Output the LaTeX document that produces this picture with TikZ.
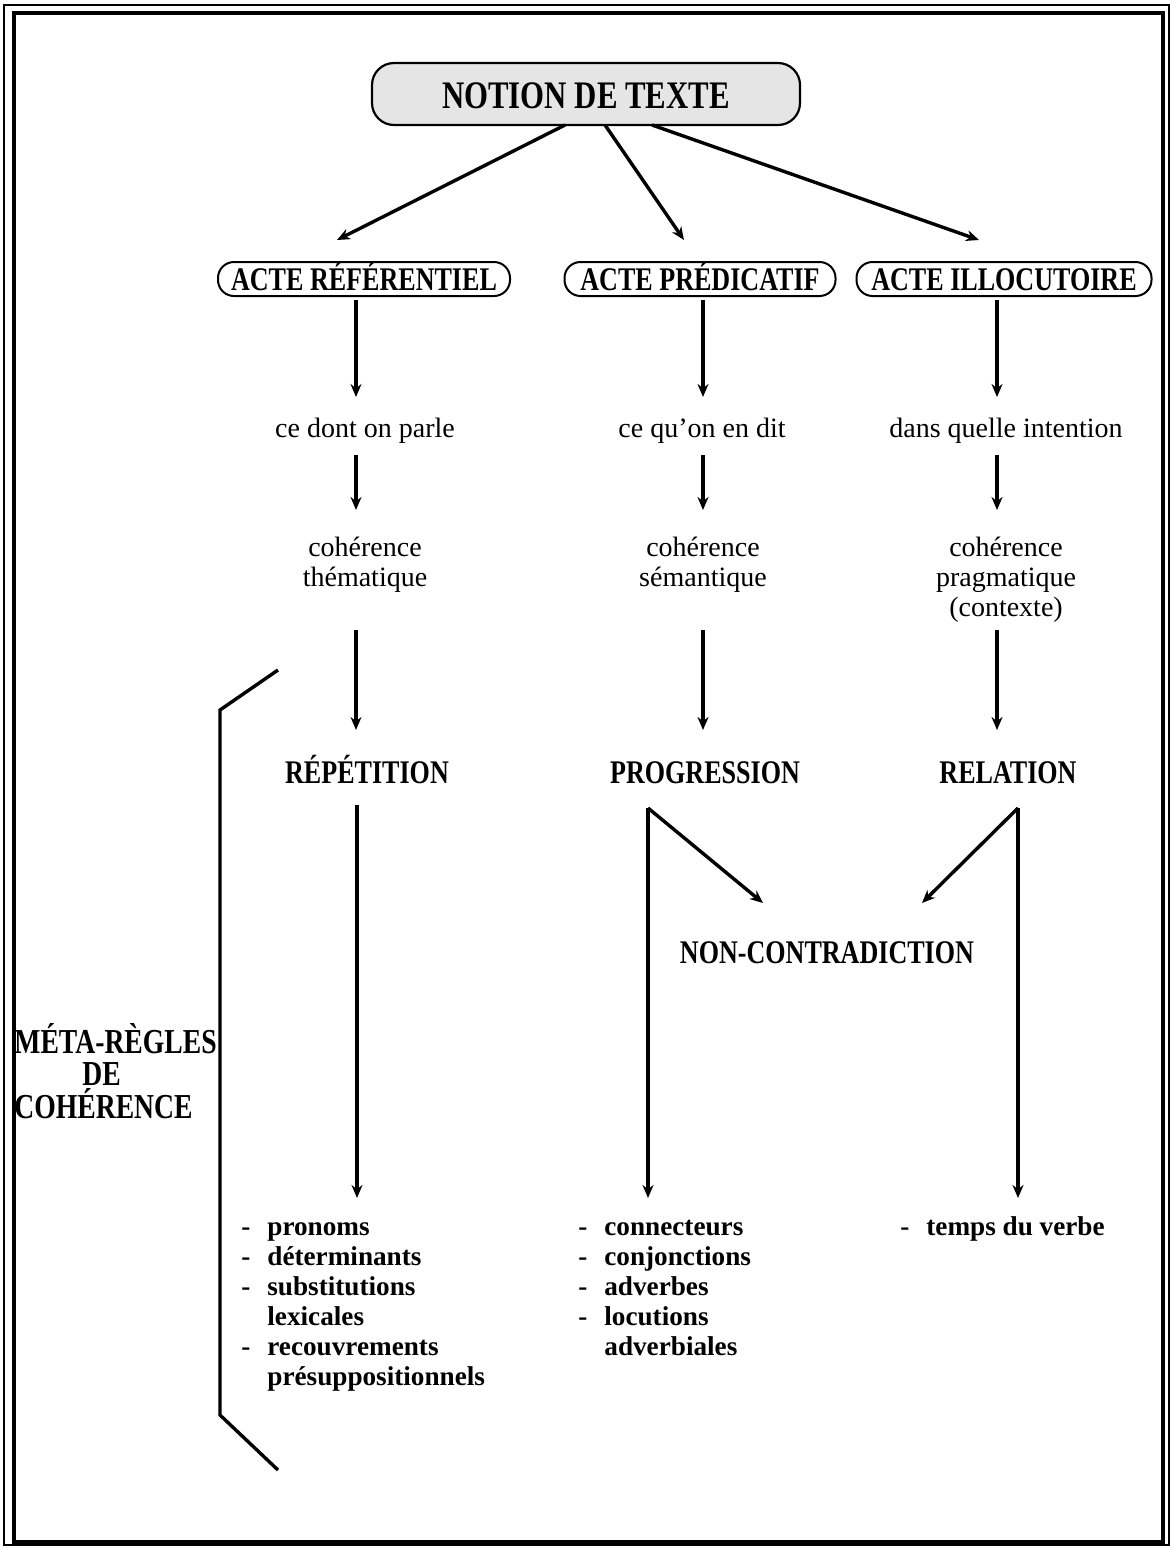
\documentclass[tikz,border=0pt]{standalone}
\usepackage{fontspec}
\setmainfont{Liberation Serif}
\newfontfamily\capsfont[FakeStretch=0.79]{Liberation Serif}
\usetikzlibrary{arrows.meta}
\begin{document}
\begin{tikzpicture}[x=0.5pt,y=-0.5pt,
  arr/.style={line width=1.7pt,-{Stealth[length=6.5pt,width=5.5pt]}},
  ln/.style={line width=1.7pt},
  head/.style={font=\capsfont\bfseries\fontsize{16.5}{18}\selectfont, inner sep=0pt},
  txt/.style={font=\fontsize{14}{15}\selectfont, align=center, inner sep=0pt},
  acte/.style={head, draw, line width=1pt, rounded corners=8pt, minimum height=17pt,
               inner xsep=0pt, text height=11pt, text depth=0pt},
  meta/.style={font=\capsfont\bfseries\fontsize{17.5}{19}\selectfont, inner sep=0pt,
               anchor=base west, text height=12pt, text depth=0pt},
  itm/.style={font=\bfseries\fontsize{13.6}{15}\selectfont, inner sep=0pt, anchor=base west},
]
\useasboundingbox (0,0) rectangle (1172,1548);
% frame
\draw[line width=1.1pt] (4,5) rectangle (1169,1545);
\draw[line width=2.4pt] (14,13) rectangle (1163,1542);

% top node
\node[draw, line width=1.1pt, rounded corners=11pt, fill=black!10,
      minimum width=214pt, minimum height=31pt, inner sep=0pt, text height=14pt, text depth=0pt,
      font=\capsfont\bfseries\fontsize{19.5}{21}\selectfont] (notion) at (586,94) {NOTION DE TEXTE};

% actes
\node[acte, minimum width=146pt] (ar) at (364,279) {ACTE RÉFÉRENTIEL};
\node[acte, minimum width=135.5pt] (ap) at (700,279) {ACTE PRÉDICATIF};
\node[acte, minimum width=147.5pt] (ai) at (1004,279) {ACTE ILLOCUTOIRE};

% connectors from the top node
\coordinate (n1) at (565,125); \coordinate (e1) at (337,240);
\coordinate (n2) at (605,125); \coordinate (e2) at (684,240);
\coordinate (n3) at (652,125); \coordinate (e3) at (979,240);
\draw[arr] (n1) -- (e1);
\draw[arr] (n2) -- (e2);
\draw[arr] (n3) -- (e3);

% texts
\node[txt, anchor=base] (t1) at (365,437) {ce dont on parle};
\node[txt, anchor=base] (t2) at (702,437) {ce qu’on en dit};
\node[txt, anchor=base] (t3) at (1006,437) {dans quelle intention};

\node[txt] (c1) at (365,565) {cohérence\\thématique};
\node[txt] (c2) at (703,565) {cohérence\\sémantique};
\node[txt] (c3) at (1006,580) {cohérence\\pragmatique\\(contexte)};

\node[head, anchor=base] (r1) at (367,783) {RÉPÉTITION};
\node[head, anchor=base] (r2) at (705,783) {PROGRESSION};
\node[head, anchor=base] (r3) at (1008,783) {RELATION};
\node[head, anchor=base] (nc) at (827,963) {NON-CONTRADICTION};

% vertical arrows
\foreach \x/\c in {356/a, 703/b, 997/c}{
  \coordinate (\c1s) at (\x,300); \coordinate (\c1e) at (\x,397);
  \coordinate (\c2s) at (\x,455); \coordinate (\c2e) at (\x,510);
  \coordinate (\c3s) at (\x,630); \coordinate (\c3e) at (\x,730);
  \draw[arr] (\c1s) -- (\c1e);
  \draw[arr] (\c2s) -- (\c2e);
  \draw[arr] (\c3s) -- (\c3e);
}
\coordinate (a4s) at (357,805); \coordinate (a4e) at (357,1198);
\draw[arr] (a4s) -- (a4e);

% V connectors
\coordinate (pv) at (648,808); \coordinate (pd) at (648,1198); \coordinate (pn) at (763,903);
\coordinate (rv) at (1018,808); \coordinate (rd) at (1018,1198); \coordinate (rn) at (922,903);
\draw[arr] (pv) -- (pd);
\draw[arr] (pv) -- (pn);
\draw[arr] (rv) -- (rd);
\draw[arr] (rv) -- (rn);

% bracket
\coordinate (b1) at (278,670); \coordinate (b2) at (220,710);
\coordinate (b3) at (220,1415); \coordinate (b4) at (278,1470);
\draw[ln, line join=miter] (b1) -- (b2) -- (b3) -- (b4);

% meta-regles
\node[meta] (m1) at (14,1053) {MÉTA-RÈGLES};
\node[meta] (m2) at (82,1085) {DE};
\node[meta] (m3) at (14,1118) {COHÉRENCE};

% lists
\newcommand{\dsh}{\makebox[13pt][l]{-}}
\node[itm] (i11) at (241,1235) {\dsh pronoms};
\node[itm] (i12) at (241,1265) {\dsh déterminants};
\node[itm] (i13) at (241,1295) {\dsh substitutions};
\node[itm] (i14) at (241,1325) {\hspace*{13pt}lexicales};
\node[itm] (i15) at (241,1355) {\dsh recouvrements};
\node[itm] (i16) at (241,1385) {\hspace*{13pt}présuppositionnels};

\node[itm] (i21) at (578,1235) {\dsh connecteurs};
\node[itm] (i22) at (578,1265) {\dsh conjonctions};
\node[itm] (i23) at (578,1295) {\dsh adverbes};
\node[itm] (i24) at (578,1325) {\dsh locutions};
\node[itm] (i25) at (578,1355) {\hspace*{13pt}adverbiales};

\node[itm] (i31) at (900,1235) {\dsh temps du verbe};
\end{tikzpicture}
\end{document}
